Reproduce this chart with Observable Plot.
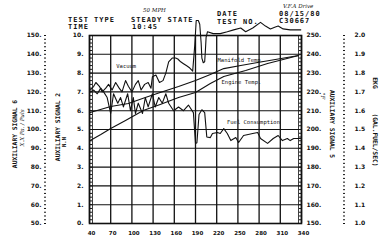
<!DOCTYPE html>
<html><head><meta charset="utf-8">
<script src="https://cdn.jsdelivr.net/npm/d3@7"></script>
<script src="https://cdn.jsdelivr.net/npm/@observablehq/plot@0.6"></script>
<style>
body{margin:0;background:#fff;}
#c{position:relative;width:385px;height:243px;overflow:hidden;background:#fff}
.t{position:absolute;font-family:"DejaVu Sans Mono",monospace;font-weight:bold;color:#111;line-height:1;white-space:nowrap}
.big{font-size:7px;letter-spacing:1px}
.r{position:absolute;font-family:"DejaVu Sans Mono",monospace;font-weight:bold;color:#111;line-height:1;white-space:nowrap;transform:translate(-50%,-50%) rotate(-90deg)}
.rr{position:absolute;font-family:"DejaVu Sans Mono",monospace;font-weight:bold;color:#111;line-height:1;white-space:nowrap;transform:translate(-50%,-50%) rotate(90deg)}
.h{font-family:"DejaVu Serif",serif;font-style:italic;font-weight:normal}
</style></head><body><div id="c"></div><script>
// tick values / labels
const xTicks = [40,70,100,130,160,190,220,250,280,310,340];
const yTicks = [0,1,2,3,4,5,6,7,8,9,10];
const sig2Labels = ["0.","1.","2.","3.","4.","5.","6.","7.","8.","9.","10."];
const sig6Labels = ["50.","60.","70.","80.","90.","100.","110.","120.","130.","140.","150."];
const sig5Labels = ["150.","160.","170.","180.","190.","200.","210.","220.","230.","240.","250."];
const fuelLabels = ["1.0","1.1","1.2","1.3","1.4","1.5","1.6","1.7","1.8","1.9","2.0"];

// Vacuum (left scale, 0-10)
const vacuumX = [41,46,49,54,58,63,67,72,77,82,86,91,95,100,105,109,113,118,123,127,129,134,139,144,148,152,157,162,165,169,173,177,181,186,189,191,194,196,198,199,201,203,204,205,207,215,225,235,244,254,261,271,282,289,296,303,307,314,324,339];
const vacuumV = [7.1,7.3,7.5,7.3,7.0,7.2,7.4,7.1,7.5,7.2,7.0,7.6,7.3,7.0,7.4,7.6,7.1,7.4,7.5,7.2,7.8,7.9,7.5,7.6,8.0,8.6,8.8,8.8,8.75,8.6,8.5,8.4,8.3,8.1,9.5,10.8,10.8,10.6,9.6,8.8,8.55,8.6,9.2,9.9,10.2,10.1,10.1,10.2,10.3,10.4,10.2,10.4,10.7,10.5,10.35,10.45,10.5,10.35,10.3,10.3];

// Manifold temp & engine temp (right scale, deg F 150-250)
const manifoldX = [41,70,95,119,140,166,190,211,230,254,278,303,336];
const manifoldF = [209.0,212.2,213.8,217.0,219.7,222.9,226.1,229.3,232.4,234.0,235.6,237.2,239.4];
const engineX = [41,56,70,91,116,140,166,190,211,230,261,292,336];
const engineF = [194.1,197.3,200.5,204.8,210.1,213.3,217.0,219.7,224.5,228.2,231.4,235.1,239.4];

// Fuel consumption (far right scale, GAL FUEL/SEC 1.0-2.0)
const fuelX = [41,46,51,56,60,65,70,74,80,84,88,94,98,102,105,109,115,119,123,129,133,138,143,148,152,159,166,173,180,187,190,192,195,199,203,206,211,214,221,225,230,235,240,247,251,258,271,278,282,292,300,307,313,320,324,329,339];
const fuelG = [1.70,1.71,1.69,1.72,1.70,1.67,1.585,1.69,1.64,1.67,1.62,1.69,1.60,1.67,1.585,1.64,1.585,1.67,1.62,1.69,1.62,1.67,1.64,1.69,1.64,1.60,1.62,1.60,1.63,1.59,1.426,1.43,1.58,1.605,1.59,1.46,1.457,1.479,1.484,1.479,1.505,1.479,1.441,1.457,1.431,1.468,1.479,1.484,1.452,1.426,1.452,1.468,1.441,1.452,1.441,1.452,1.452];

const vacuum = vacuumX.map((x,i)=>({x, y: vacuumV[i]}));
const manifold = manifoldX.map((x,i)=>({x, y: (manifoldF[i]-150)/10}));
const engine = engineX.map((x,i)=>({x, y: (engineF[i]-150)/10}));
const fuel = fuelX.map((x,i)=>({x, y: (fuelG[i]-1)*10}));
const minor = d3.range(0, 10.001, 0.2);

const ink = "#111";
const fs = {fontSize: 6, fontWeight: "bold", fill: ink, label: null};
const bare = {tickFormat: () => "", stroke: ink, label: null};
const plot = Plot.plot({
  width: 385, height: 243,
  marginLeft: 89, marginRight: 84, marginTop: 35, marginBottom: 20,
  x: {domain: [40, 340], axis: null, label: null},
  y: {domain: [0, 10], axis: null, label: null},
  style: {fontFamily: "DejaVu Sans, sans-serif", background: "white"},
  marks: [
    Plot.gridX(xTicks, {stroke: ink, strokeOpacity: 1, strokeWidth: 1.3}),
    Plot.gridY(yTicks, {stroke: ink, strokeOpacity: 1, strokeWidth: 1.1}),
    Plot.frame({stroke: ink, strokeWidth: 1.6}),
    Plot.frame({stroke: ink, strokeWidth: 0.8, insetLeft: 3, insetRight: 3}),
    Plot.axisY(minor, {anchor: "left", dx: 3, tickSize: 3, ...bare}),
    Plot.axisY(minor, {anchor: "right", dx: -3, tickSize: 3, ...bare}),
    // inner left axis (signal 2)
    Plot.axisY(yTicks, {anchor: "left", tickSize: 0, tickPadding: 6, tickFormat: d => sig2Labels[yTicks.indexOf(d)], ...fs}),
    // far left axis (signal 6)
    Plot.axisY(minor, {anchor: "left", dx: -43, tickSize: 2, ...bare}),
    Plot.axisY(yTicks, {anchor: "left", dx: -43, tickSize: 0, tickPadding: 5, tickFormat: d => sig6Labels[yTicks.indexOf(d)], ...fs}),
    // right axis (signal 5)
    Plot.axisY(yTicks, {anchor: "right", tickSize: 0, tickPadding: 5, tickFormat: d => sig5Labels[yTicks.indexOf(d)], ...fs}),
    // far right axis (fuel)
    Plot.axisY(minor, {anchor: "right", dx: 41, tickSize: 2, ...bare}),
    Plot.axisY(yTicks, {anchor: "right", dx: 41, tickSize: 0, tickPadding: 12, tickFormat: d => fuelLabels[yTicks.indexOf(d)], ...fs}),
    Plot.axisX(xTicks, {anchor: "bottom", tickSize: 0, tickPadding: 8, dx: 2, ...fs, fontSize: 5.5}),
    Plot.line(vacuum, {x: "x", y: "y", stroke: ink, strokeWidth: 1.1}),
    Plot.line(manifold, {x: "x", y: "y", stroke: ink, strokeWidth: 1.1}),
    Plot.line(engine, {x: "x", y: "y", stroke: ink, strokeWidth: 1.1}),
    Plot.line(fuel, {x: "x", y: "y", stroke: ink, strokeWidth: 1.1}),
    Plot.text(["Vacuum"], {x: 92, y: 8.35, text: d => d, fontSize: 5.5, fontFamily: "DejaVu Sans Mono", fill: ink}),
    Plot.text(["Manifold Temp."], {x: 254, y: 8.67, text: d => d, fontSize: 5.5, fontFamily: "DejaVu Sans Mono", fill: ink}),
    Plot.text(["Engine Temp."], {x: 255, y: 7.5, text: d => d, fontSize: 5.5, fontFamily: "DejaVu Sans Mono", fill: ink}),
    Plot.text(["Fuel Consumption"], {x: 272, y: 5.37, text: d => d, fontSize: 5.5, fontFamily: "DejaVu Sans Mono", fill: ink})
  ]
});
const c = document.getElementById("c");
c.appendChild(plot);
const add = (cls, html, css) => { const d = document.createElement("div"); d.className = cls; d.innerHTML = html; d.style.cssText = css; c.appendChild(d); };
add("t big", "TEST TYPE", "left:68px;top:16.5px");
add("t big", "TIME", "left:68px;top:24px");
add("t big", "STEADY STATE", "left:131px;top:16.5px");
add("t big", "10:45", "left:132px;top:24px");
add("t h", "50 MPH", "left:143px;top:8px;font-size:5.5px");
add("t big", "DATE", "left:217px;top:11px");
add("t big", "TEST NO.", "left:217px;top:18.5px");
add("t big", "08/15/80", "left:279px;top:10.5px");
add("t big", "C30667", "left:279px;top:18px");
add("t h", "V.F.A Drive", "left:283px;top:3.5px;font-size:5.5px");
add("r", "AUXILIARY SIGNAL 6", "left:15px;top:134px;font-size:6.3px");
add("r h", "X.X Pa. / Puls", "left:23px;top:128px;font-size:5.5px");
add("r", "AUXILIARY SIGNAL 2", "left:58px;top:127px;font-size:6.3px");
add("r", "N.N", "left:65px;top:142px;font-size:5.5px");
add("rr", "AUXILIARY SIGNAL 5", "left:332px;top:124px;font-size:6.3px");
add("rr h", "°F", "left:322px;top:96px;font-size:5.5px");
add("rr", "EKG", "left:375px;top:83px;font-size:6.3px");
add("rr", "(GAL.FUEL/SEC)", "left:375px;top:140px;font-size:6.3px");
</script></body></html>
